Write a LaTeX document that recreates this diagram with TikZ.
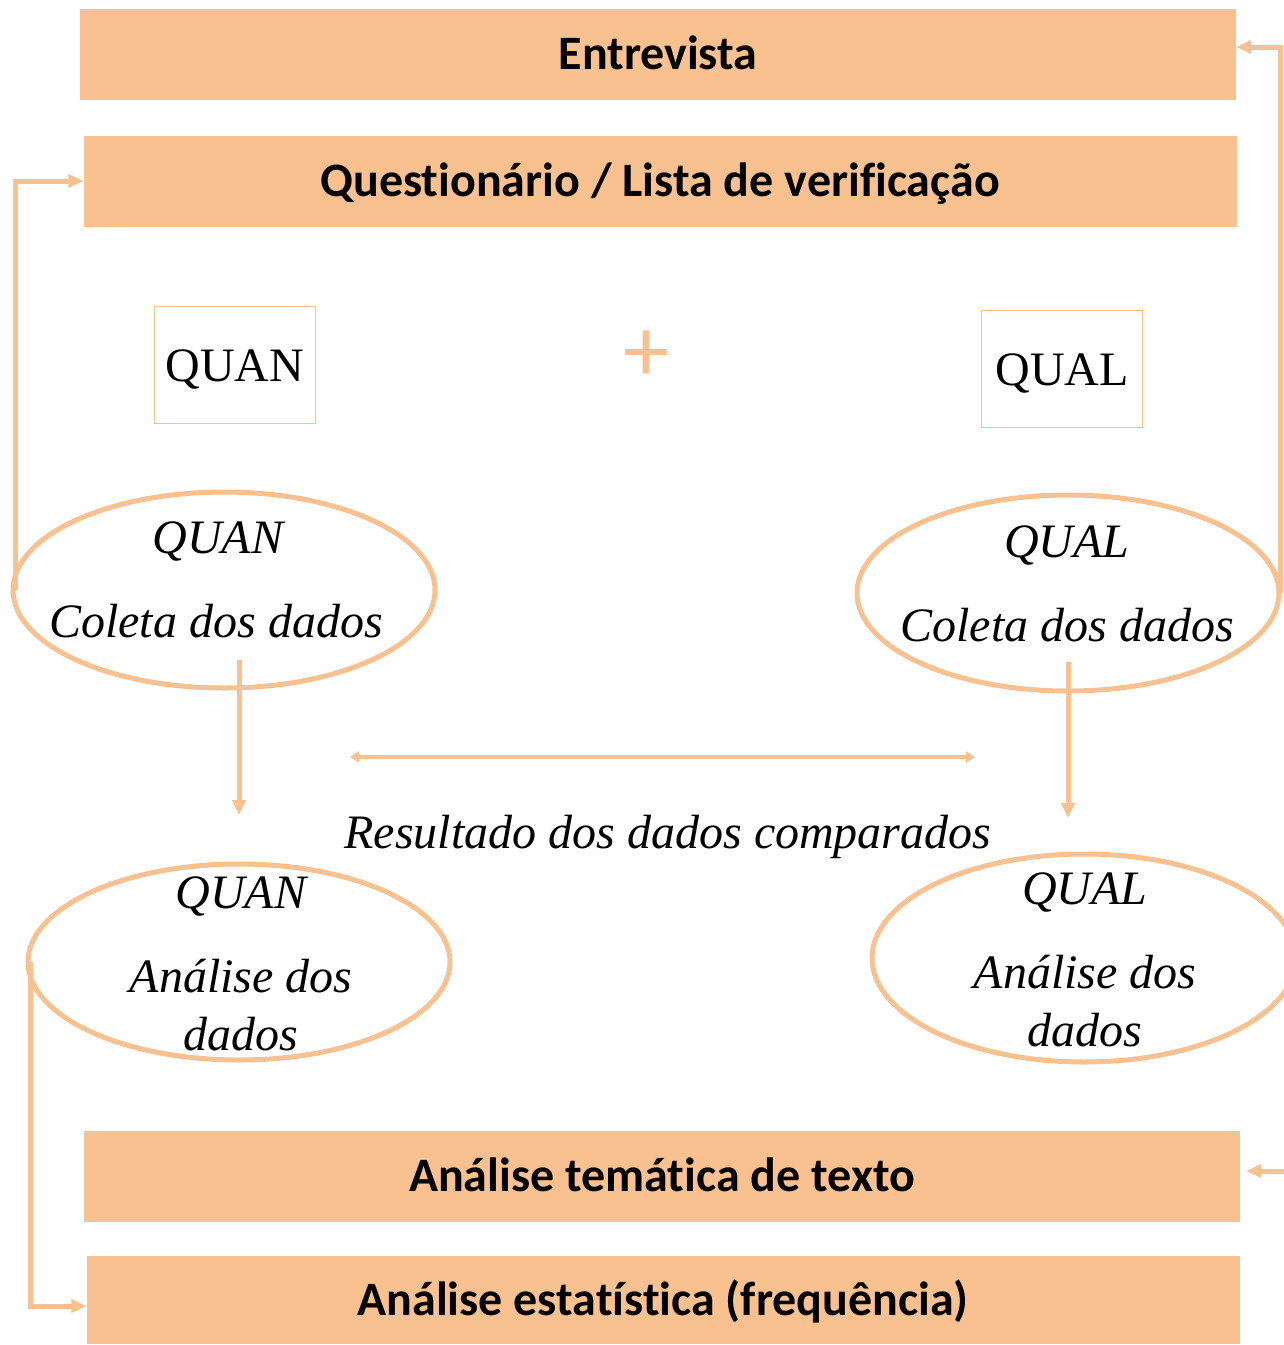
\documentclass[tikz,border=0pt]{standalone}
\usepackage{fontspec}
\setmainfont{Liberation Serif}
\newfontfamily\barfont[Ligatures=NoCommon]{Carlito}
\usetikzlibrary{arrows.meta,shapes.geometric,positioning}
\definecolor{peach}{RGB}{249,193,144}

\begin{document}
\begin{tikzpicture}
    [
      x=1pt, y=-1pt,
      bar/.style={fill=peach, minimum height=91pt, inner sep=0pt,
                  text height=31pt, text depth=0pt,
                  font=\barfont\bfseries\fontsize{48}{52}\selectfont},
      tag/.style={draw=peach, line width=1.5pt, minimum width=161pt, minimum height=117pt,
                  inner sep=0pt, text height=32pt, text depth=0pt,
                  font=\fontsize{48}{52}\selectfont},
      oval/.style={ellipse, draw=peach, line width=5pt, minimum width=422pt,
                   minimum height=196pt, inner sep=0pt},
      txt/.style={anchor=base, inner sep=0pt, font=\itshape\fontsize{48}{52}\selectfont},
      link/.style={peach, line width=5pt, -{Triangle[length=15pt,width=13pt]}},
    ]
    \useasboundingbox (0,0) rectangle (1284,1345);

    % bars
    \node [bar, minimum width=1156pt] (entr)  at (658,54)   {Entrevista};
    \node [bar, minimum width=1153pt] (quest) at (660,181)  {Questionário / Lista de verificação};
    \node [bar, minimum width=1156pt] (them)  at (662,1176) {Análise temática de texto};
    \node [bar, minimum width=1153pt, minimum height=88pt] (stat) at (663,1300) {Análise estatística (frequência)};

    % tags
    \node [tag] (tquan) at (235,365) {QUAN};
    \node [tag] (tqual) at (1062,369) {QUAL};
    \node [text=peach, inner sep=0pt, font=\barfont\fontsize{92}{92}\selectfont] (plus) at (646,356) {+};

    % ovals
    \node [oval] (qncol) at (224,590) {};
    \node [oval] (qlcol) at (1068,593) {};
    \node [oval] (qnana) at (239,962) {};
    \node [oval, minimum width=424pt, minimum height=208pt] (qlana) at (1084,958) {};

    % oval texts
    \node [txt] (qncol1) at (218,553) {QUAN};
    \node [txt] (qncol2) at (216,637) {Coleta dos dados};
    \node [txt] (qlcol1) at (1067,557) {QUAL};
    \node [txt] (qlcol2) at (1067,641) {Coleta dos dados};
    \node [txt] (qnana1) at (241,908) {QUAN};
    \node [txt] (qnana2) at (241,992) {Análise dos};
    \node [txt] (qnana3) at (241,1050) {dados};
    \node [txt] (qlana1) at (1085,904) {QUAL};
    \node [txt] (qlana2) at (1085,988) {Análise dos};
    \node [txt] (qlana3) at (1085,1046) {dados};
    \node [txt] (res) at (668,848) {Resultado dos dados comparados};

    % links
    \coordinate (d1) at (239,660);
    \coordinate (d2) at (239,815);
    \coordinate (d3) at (1068,662);
    \coordinate (d4) at (1068,818);
    \coordinate (c1) at (350,757);
    \coordinate (c2) at (975,757);
    \coordinate (edge) at (1290,1171);
    \draw [link] ([xshift=5pt]qncol.west) |- (quest.west);
    \draw [link] ([xshift=-1pt]qlcol.east) |- ([yshift=7pt]entr.east);
    \draw [link] ([xshift=5pt]qnana.west) |- ([yshift=-6pt]stat.west);
    \draw [link] (edge) -- ([xshift=6pt]them.east |- edge);
    \draw [link] (d1) -- (d2);
    \draw [link] (d3) -- (d4);
    \draw [peach, line width=4pt, {Triangle[length=9pt,width=11pt]}-{Triangle[length=9pt,width=11pt]}] (c1) -- (c2);
  \end{tikzpicture}
\end{document}
